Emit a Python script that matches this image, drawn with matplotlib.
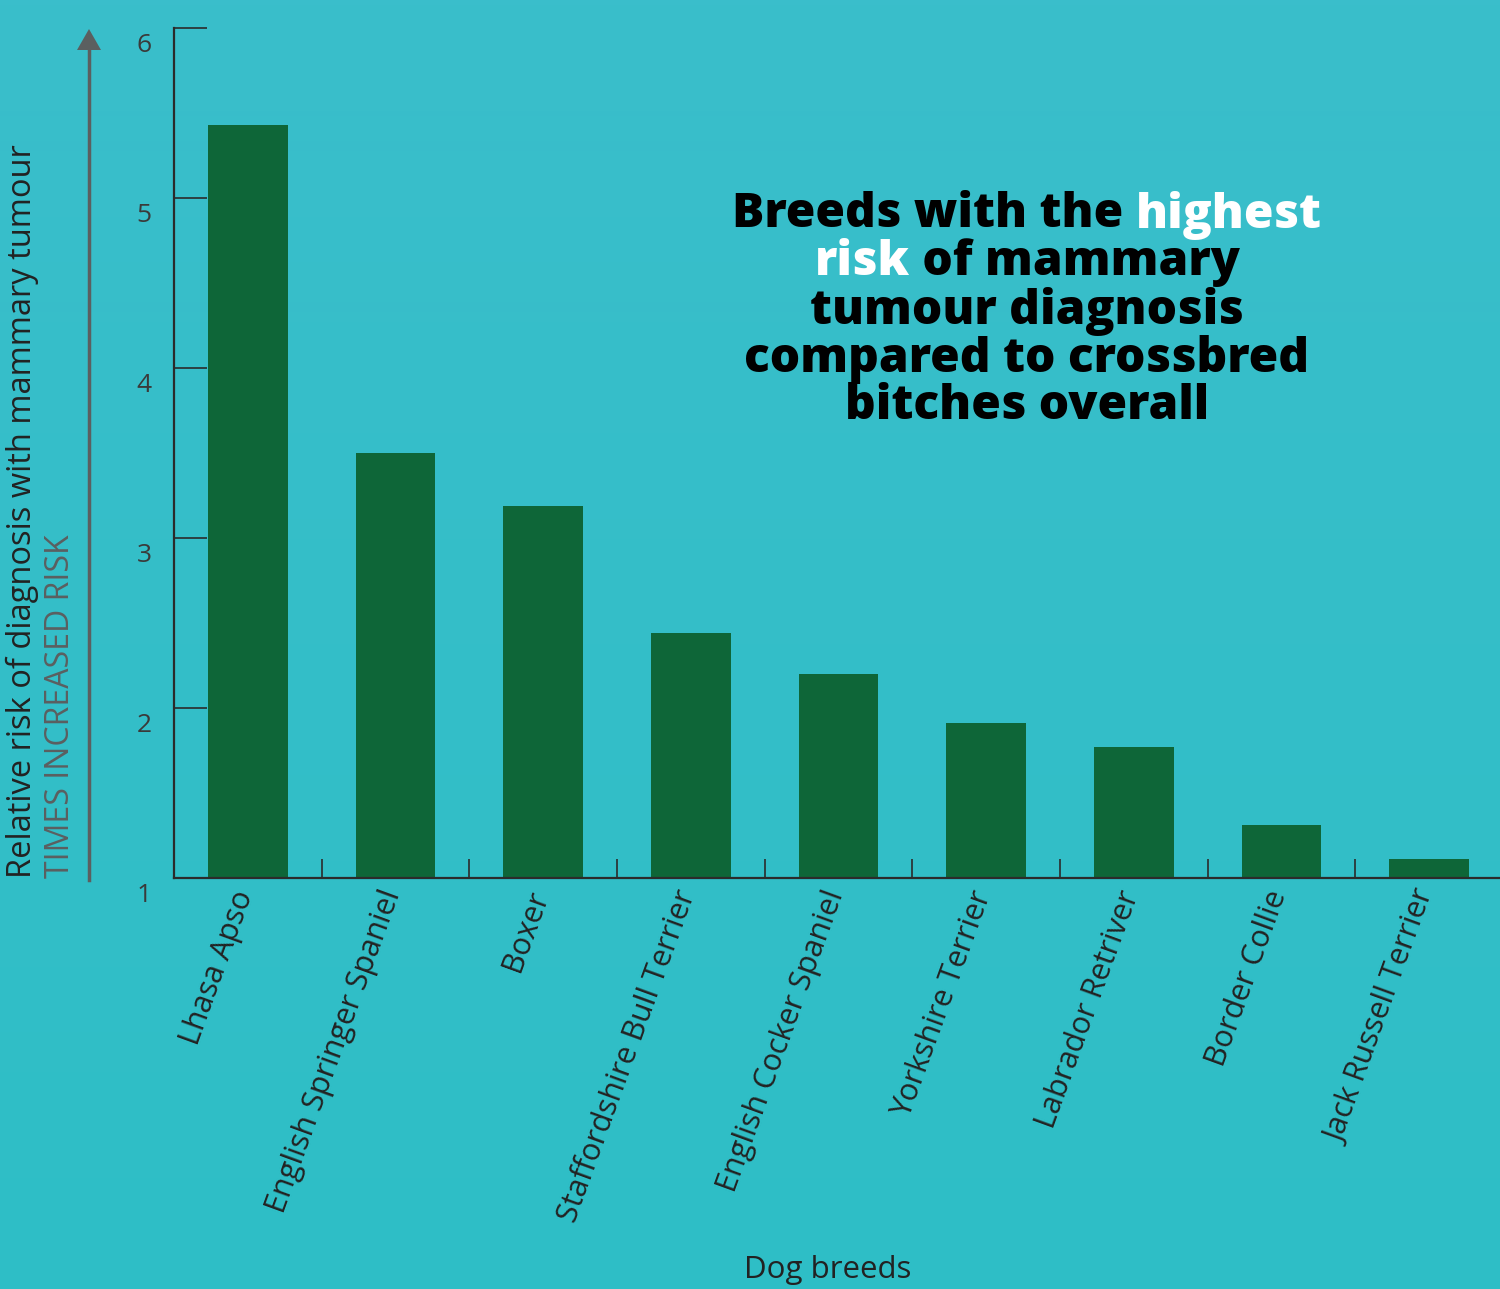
import numpy as np
import matplotlib.pyplot as plt
from matplotlib.transforms import ScaledTranslation

# Donnees
races = ["Lhasa Apso", "English Springer Spaniel", "Boxer",
         "Staffordshire Bull Terrier", "English Cocker Spaniel",
         "Yorkshire Terrier", "Labrador Retriver", "Border Collie",
         "Jack Russell Terrier"]
risque = [5.43, 3.50, 3.19, 2.44, 2.20, 1.91, 1.77, 1.31, 1.11]
graduations = [1, 2, 3, 4, 5, 6]

titre = [[("Breeds with the ", "black"), ("highest", "white")],
         [("risk", "white"), (" of mammary", "black")],
         [("tumour diagnosis", "black")],
         [("compared to crossbred", "black")],
         [("bitches overall", "black")]]

plt.rcParams['font.family'] = ['Open Sans', 'DejaVu Sans']

W, H = 1500, 1289
fig = plt.figure(figsize=(W/100, H/100), dpi=100)

# fond en degrade
fond = fig.add_axes([0, 0, 1, 1], zorder=-10)
grad = np.linspace(0, 1, 256).reshape(-1, 1)
haut = np.array([58, 190, 203]) / 255
bas = np.array([46, 190, 198]) / 255
img = haut[None, None, :] * (1 - grad[:, :, None]) + bas[None, None, :] * grad[:, :, None]
fond.imshow(img, aspect='auto', extent=[0, 1, 0, 1])
fond.axis('off')

ax = fig.add_axes([174/W, 1-878/H, 1329/W, 850/H])
ax.patch.set_alpha(0)
x = np.arange(len(races))
ax.bar(x, np.array(risque) - 1, bottom=1, width=0.54, color="#0e6638")
ax.set_xlim(-0.5, len(races) - 0.5)
ax.set_ylim(1, 6)

for s in ["top", "right"]:
    ax.spines[s].set_visible(False)
for s in ["left", "bottom"]:
    ax.spines[s].set_color("#2b2b2b")
    ax.spines[s].set_linewidth(1.6)

ax.set_yticks(graduations)
ax.tick_params(axis='y', direction='in', length=24, width=1.2, color="#2b2b2b",
               labelsize=19, labelcolor="#3a3a3a", pad=16)
decal = ScaledTranslation(0, -14/100, fig.dpi_scale_trans)
for lab in ax.get_yticklabels():
    lab.set_transform(lab.get_transform() + decal)

ax.set_xticks(x)
ax.set_xticks(x[:-1] + 0.5, minor=True)
ax.tick_params(axis='x', which='major', length=0, pad=6)
ax.tick_params(axis='x', which='minor', direction='in', length=14, width=1.2, color="#2b2b2b")
ax.set_xticklabels(races, rotation=70, ha='right', va='top', rotation_mode='anchor',
                   fontsize=22, color="#222222")
decal_x = ScaledTranslation(-17/100, 0, fig.dpi_scale_trans)
for lab in ax.get_xticklabels():
    lab.set_transform(lab.get_transform() + decal_x)

fig.text(828/W, 1-1270/H, "Dog breeds", ha='center', va='center', fontsize=22.5, color="#222222")

fig.text(22/W, 1-878/H, "Relative risk of diagnosis with mammary tumour", rotation=90,
         ha='center', va='bottom', fontsize=23.5, color="#222222")
fig.text(61/W, 1-878/H, "TIMES INCREASED RISK", rotation=90,
         ha='center', va='bottom', fontsize=23, color="#5b5f60")

fig.add_artist(plt.Line2D([89/W, 89/W], [1-880/H, 1-45/H], color="#5b5f60", lw=2.5))
ax_fl = fig.add_axes([0, 0, 1, 1], zorder=5)
ax_fl.axis('off')
ax_fl.set_xlim(0, W)
ax_fl.set_ylim(H, 0)
ax_fl.fill([77, 101, 89], [50, 50, 29], color="#5b5f60", lw=0)

# titre en plusieurs couleurs, centre ligne par ligne
fig.canvas.draw()
rend = fig.canvas.get_renderer()
cx = 1027
y0 = 215
interligne = 48
for i, ligne in enumerate(titre):
    morceaux = []
    total = 0
    for mot, coul in ligne:
        t = ax_fl.text(0, y0 + i*interligne, mot, fontsize=34.5, fontweight='heavy',
                       color=coul, va='center', ha='left')
        l = t.get_window_extent(rend).width
        morceaux.append((t, l))
        total += l
    pos = cx - total/2
    for t, l in morceaux:
        t.set_x(pos)
        pos += l

fig.savefig("out.png", dpi=100)
